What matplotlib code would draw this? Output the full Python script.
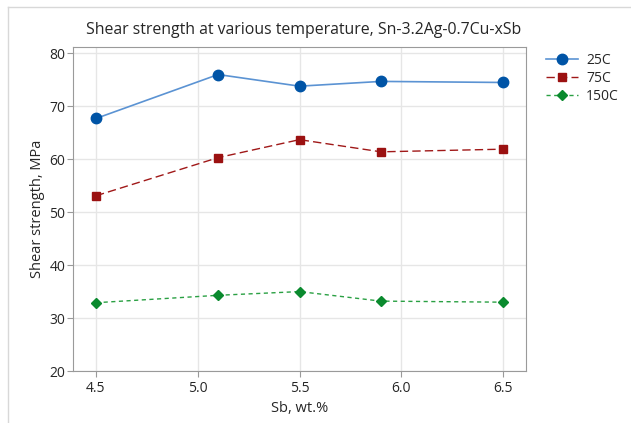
import matplotlib
matplotlib.use("Agg")
import matplotlib.pyplot as plt
from matplotlib.lines import Line2D

plt.rcParams['font.family'] = ['Open Sans', 'DejaVu Sans']

sb = [4.5, 5.1, 5.5, 5.9, 6.5]
s25 = [67.7, 76.0, 73.8, 74.7, 74.5]
s75 = [53.1, 60.3, 63.7, 61.4, 61.9]
s150 = [32.9, 34.3, 35.0, 33.2, 33.0]
xticks = [4.5, 5.0, 5.5, 6.0, 6.5]
yticks = [20, 30, 40, 50, 60, 70, 80]

W, H = 631, 423
fig = plt.figure(figsize=(W / 100, H / 100), dpi=100)
ax = fig.add_axes([73/W, 1 - 371/H, (526-73)/W, (371-47)/H])

ax.plot(sb, s25, color='#5b93d3', lw=1.2, marker='o', ms=7.5,
        mfc='#0054a6', mec='#0054a6', label='25C')
ax.plot(sb, s75, color='#a01818', lw=1.0, ls=(0, (6, 3)), marker='s', ms=5.5,
        mfc='#9b1111', mec='#9b1111', label='75C')
ax.plot(sb, s150, color='#2aa043', lw=1.0, ls=(0, (3, 2.5)), marker='D', ms=5,
        mfc='#0a8a2e', mec='#0a8a2e', label='150C')

ax.set_xlim(4.387, 6.613)
ax.set_ylim(20, 81.2)
ax.set_xticks(xticks)
ax.set_xticklabels([f"{v:.1f}" for v in xticks])
ax.set_yticks(yticks)
ax.grid(True, color='#e6e6e6', lw=1)
ax.set_axisbelow(True)
for sp in ax.spines.values():
    sp.set_color('#9a9a9a')
ax.tick_params(axis='both', colors='#9a9a9a', labelcolor='#262626',
               labelsize=10, length=4, width=0.8)
ax.tick_params(axis='y', pad=1.5)

fig.text(304/W, 1 - 30/H, 'Shear strength at various temperature, Sn-3.2Ag-0.7Cu-xSb',
         fontsize=11.4, color='#262626', ha='center', va='center')
ax.set_xlabel('Sb, wt.%', fontsize=10.5, color='#262626', labelpad=3)
ax.set_ylabel('Shear strength, MPa', fontsize=10.5, color='#262626', labelpad=3)

leg = fig.legend(loc='upper left', bbox_to_anchor=(546/W, 1 - 53/H), frameon=False,
                 fontsize=10, handlelength=2.3, labelspacing=0.2, handletextpad=0.6,
                 borderpad=0, borderaxespad=0)
for t in leg.get_texts():
    t.set_color('#262626')

fig.add_artist(Line2D([8/W, 8/W], [0, 1 - 7/H], color='#d8d8d8', lw=1))
fig.add_artist(Line2D([8/W, 1], [1 - 7/H, 1 - 7/H], color='#d8d8d8', lw=1))

fig.savefig('out.png', dpi=100)
